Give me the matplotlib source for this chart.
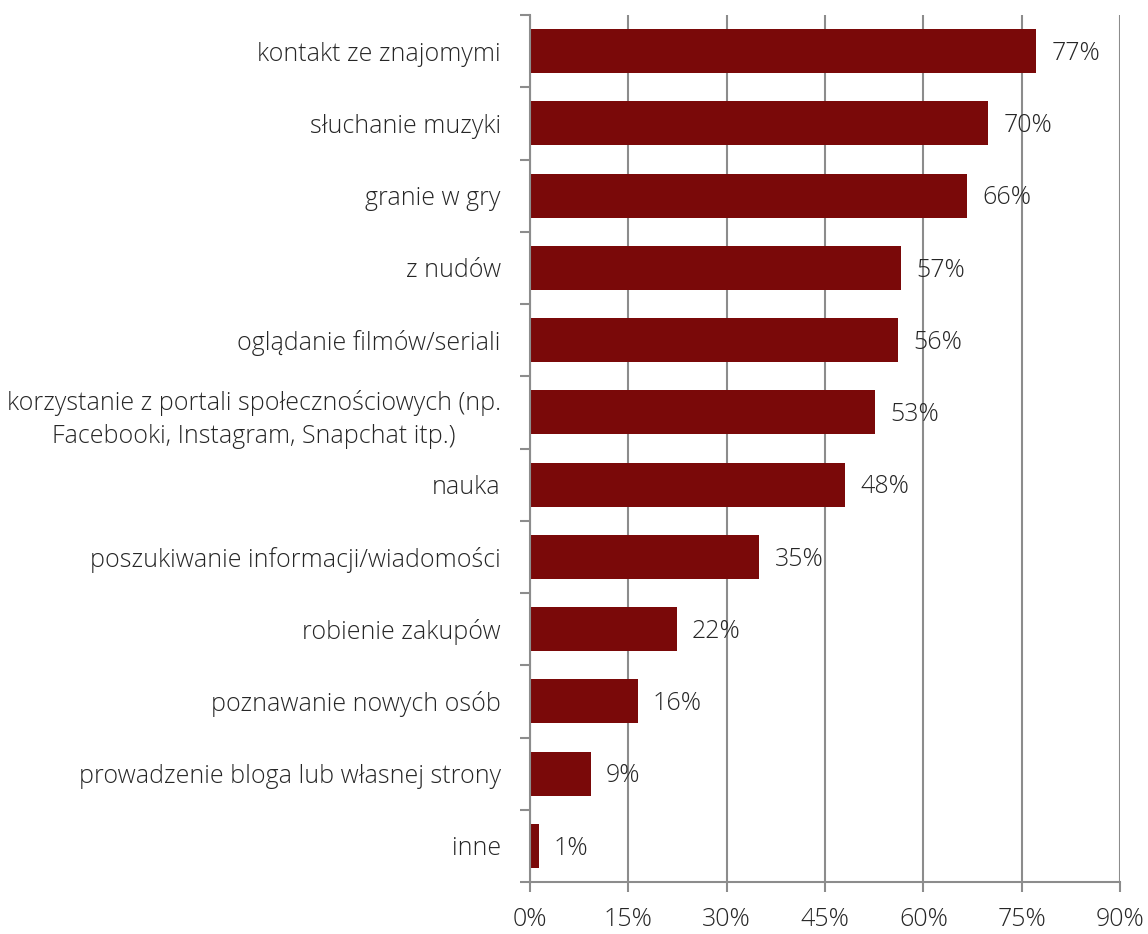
import matplotlib
matplotlib.use("Agg")
import matplotlib.pyplot as plt
import numpy as np

# Category labels (top to bottom) and percentages.
categories = [
    "kontakt ze znajomymi",
    "słuchanie muzyki",
    "granie w gry",
    "z nudów",
    "oglądanie filmów/seriali",
    "korzystanie z portali społecznościowych (np.\nFacebooki, Instagram, Snapchat itp.)",
    "nauka",
    "poszukiwanie informacji/wiadomości",
    "robienie zakupów",
    "poznawanie nowych osób",
    "prowadzenie bloga lub własnej strony",
    "inne",
]
values = [77.2, 69.9, 66.7, 56.6, 56.1, 52.7, 48.1, 35.0, 22.4, 16.4, 9.3, 1.3]
value_labels = ["77%", "70%", "66%", "57%", "56%", "53%", "48%", "35%", "22%", "16%", "9%", "1%"]
xticks = [0, 15, 30, 45, 60, 75, 90]

plt.rcParams["font.family"] = ["Open Sans", "DejaVu Sans"]
plt.rcParams["font.weight"] = "light"

bar_color = "#7a0909"
grid_color = "#8c8c8c"
text_color = "#262626"
fs = 18

fig = plt.figure(figsize=(11.48, 9.34), dpi=100)
ax = fig.add_axes([530 / 1148, 1 - 882 / 934, 590 / 1148, 867 / 934])

ypos = np.arange(len(categories))
ax.barh(ypos, values, height=0.61, color=bar_color, zorder=3)

for y, v, lab in zip(ypos, values, value_labels):
    ax.text(v + 2.3, y + 0.03, lab, va="center", ha="left", fontsize=fs,
            color=text_color, zorder=4)

ax.set_xlim(0, 90)
ax.set_ylim(len(categories) - 0.5, -0.5)

ax.set_xticks(xticks)
ax.set_xticklabels([f"{t}%" for t in xticks], fontsize=fs, color=text_color)
ax.xaxis.grid(True, color=grid_color, linewidth=1.5, zorder=0)

# category boundaries get the tick marks, labels sit at the centres
ax.set_yticks(np.arange(-0.5, len(categories), 1.0))
ax.set_yticklabels([])
ax.set_yticks(ypos, minor=True)
ax.set_yticklabels(categories, minor=True, fontsize=fs, color=text_color,
                   linespacing=1.45, multialignment="center")
ax.tick_params(axis="y", which="minor", length=0, pad=21)
ax.tick_params(axis="y", which="major", length=7, width=1.5, color=grid_color)
ax.tick_params(axis="x", length=7, width=1.5, color=grid_color, pad=11)

for side in ["top", "right"]:
    ax.spines[side].set_visible(False)
for side in ["left", "bottom"]:
    ax.spines[side].set_color(grid_color)
    ax.spines[side].set_linewidth(1.5)
    ax.spines[side].set_zorder(5)

fig.savefig("out.png", dpi=100)
